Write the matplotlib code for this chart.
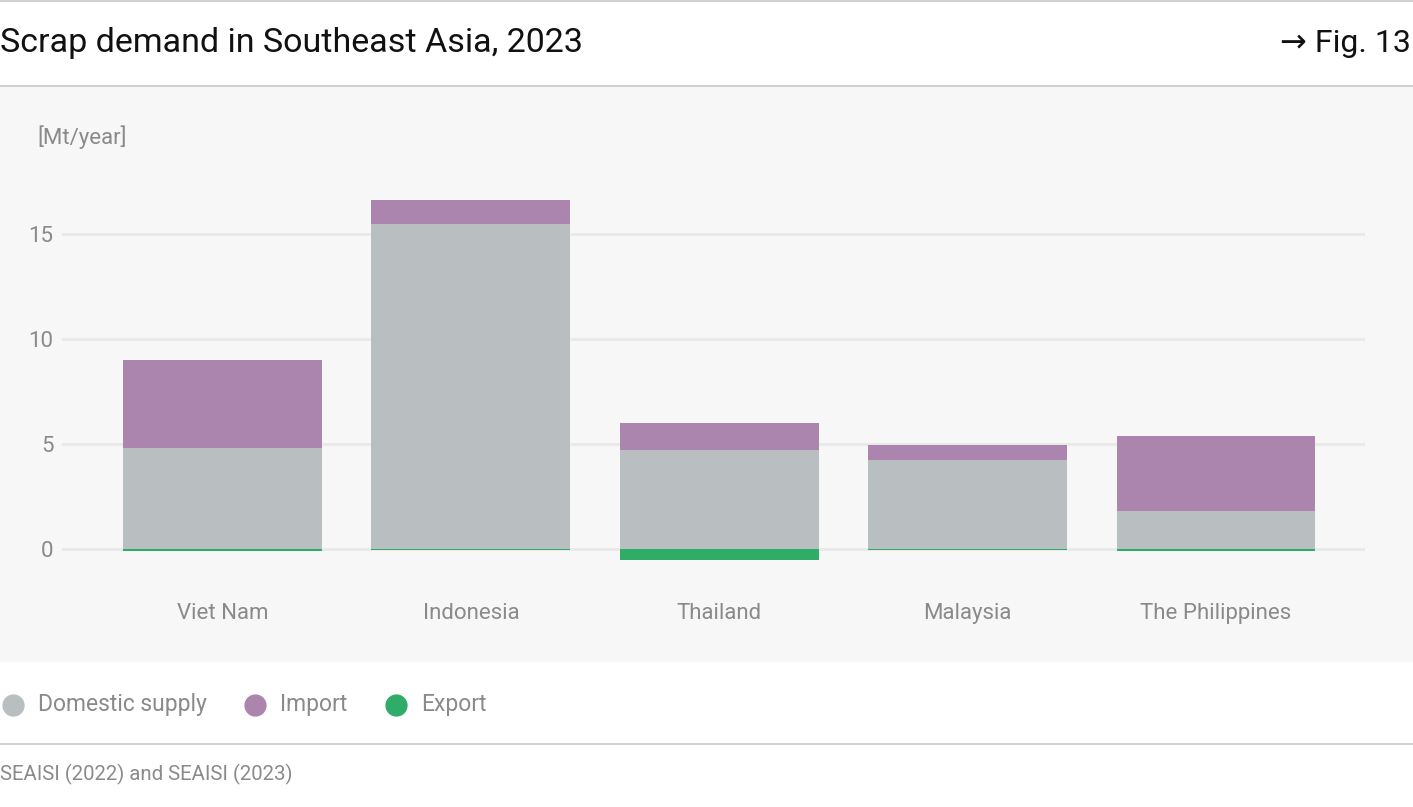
import matplotlib
matplotlib.use("Agg")
import matplotlib.pyplot as plt
from matplotlib.patches import Rectangle
from matplotlib.lines import Line2D

plt.rcParams['font.family'] = ['Roboto', 'DejaVu Sans']

W, H = 1413, 807

countries = ["Viet Nam", "Indonesia", "Thailand", "Malaysia", "The Philippines"]
domestic = [4.8, 15.5, 4.7, 4.25, 1.8]
imports = [4.2, 1.1, 1.3, 0.7, 3.6]
exports = [-0.1, -0.07, -0.5, -0.07, -0.1]
yticks = [0, 5, 10, 15]

c_dom = "#b9bec1"
c_imp = "#ab85ad"
c_exp = "#2eac68"
c_text = "#8a8a8a"


def fx(px):
    return px / W


def fy(py):
    return 1 - py / H


fig = plt.figure(figsize=(W / 100, H / 100), dpi=100)
fig.patch.set_facecolor("white")

# grey panel behind the chart
fig.add_artist(Rectangle((0, fy(662)), 1, fy(86) - fy(662), transform=fig.transFigure,
                         facecolor="#f7f7f7", edgecolor="none", zorder=0))
for yy in [1, 85.5, 744]:
    fig.add_artist(Line2D([0, 1], [fy(yy), fy(yy)], transform=fig.transFigure,
                          color="#c8c8c8", lw=1.2))

ax = fig.add_axes([fx(62), fy(580.5), fx(1365 - 62), (580.5 - 139.5) / H])
ax.set_facecolor("none")
x = range(len(countries))
ax.bar(x, domestic, width=0.8, color=c_dom, zorder=3)
ax.bar(x, imports, width=0.8, bottom=domestic, color=c_imp, zorder=3)
ax.bar(x, exports, width=0.8, color=c_exp, zorder=3)

ax.set_xlim(-0.646, 4.6)
ax.set_ylim(-1.5, 19.5)
ax.set_yticks(yticks)
ax.set_yticklabels([str(t) for t in yticks])
ax.grid(axis="y", color="#e9e9e9", lw=2, zorder=0)
ax.set_xticks(list(x))
ax.set_xticklabels(countries)
for s in ax.spines.values():
    s.set_visible(False)
ax.tick_params(axis="both", length=0, colors=c_text, labelsize=16)
ax.tick_params(axis="y", pad=6)
ax.tick_params(axis="x", pad=16.5)

fig.text(fx(37), fy(137), "[Mt/year]", fontsize=16, color=c_text, va="center", ha="left")

fig.text(0, fy(43), "Scrap demand in Southeast Asia, 2023", fontsize=24.5, color="#111111",
         va="center", ha="left")
fig.text(1 - fx(2), fy(43), "\u2192 Fig. 13", fontsize=23, color="#111111", va="center", ha="right")

# legend
legend_items = [("Domestic supply", c_dom, 13), ("Import", c_imp, 255), ("Export", c_exp, 396)]
for label, col, px in legend_items:
    fig.add_artist(Line2D([fx(px)], [fy(705)], transform=fig.transFigure, marker="o",
                          markersize=15, color=col, lw=0))
    fig.text(fx(px + 25), fy(705), label, fontsize=16.5, color=c_text, va="center", ha="left")

fig.text(0, fy(774), "SEAISI (2022) and SEAISI (2023)", fontsize=14.7, color=c_text,
         va="center", ha="left")

fig.savefig("out.png", dpi=100, facecolor="white")
